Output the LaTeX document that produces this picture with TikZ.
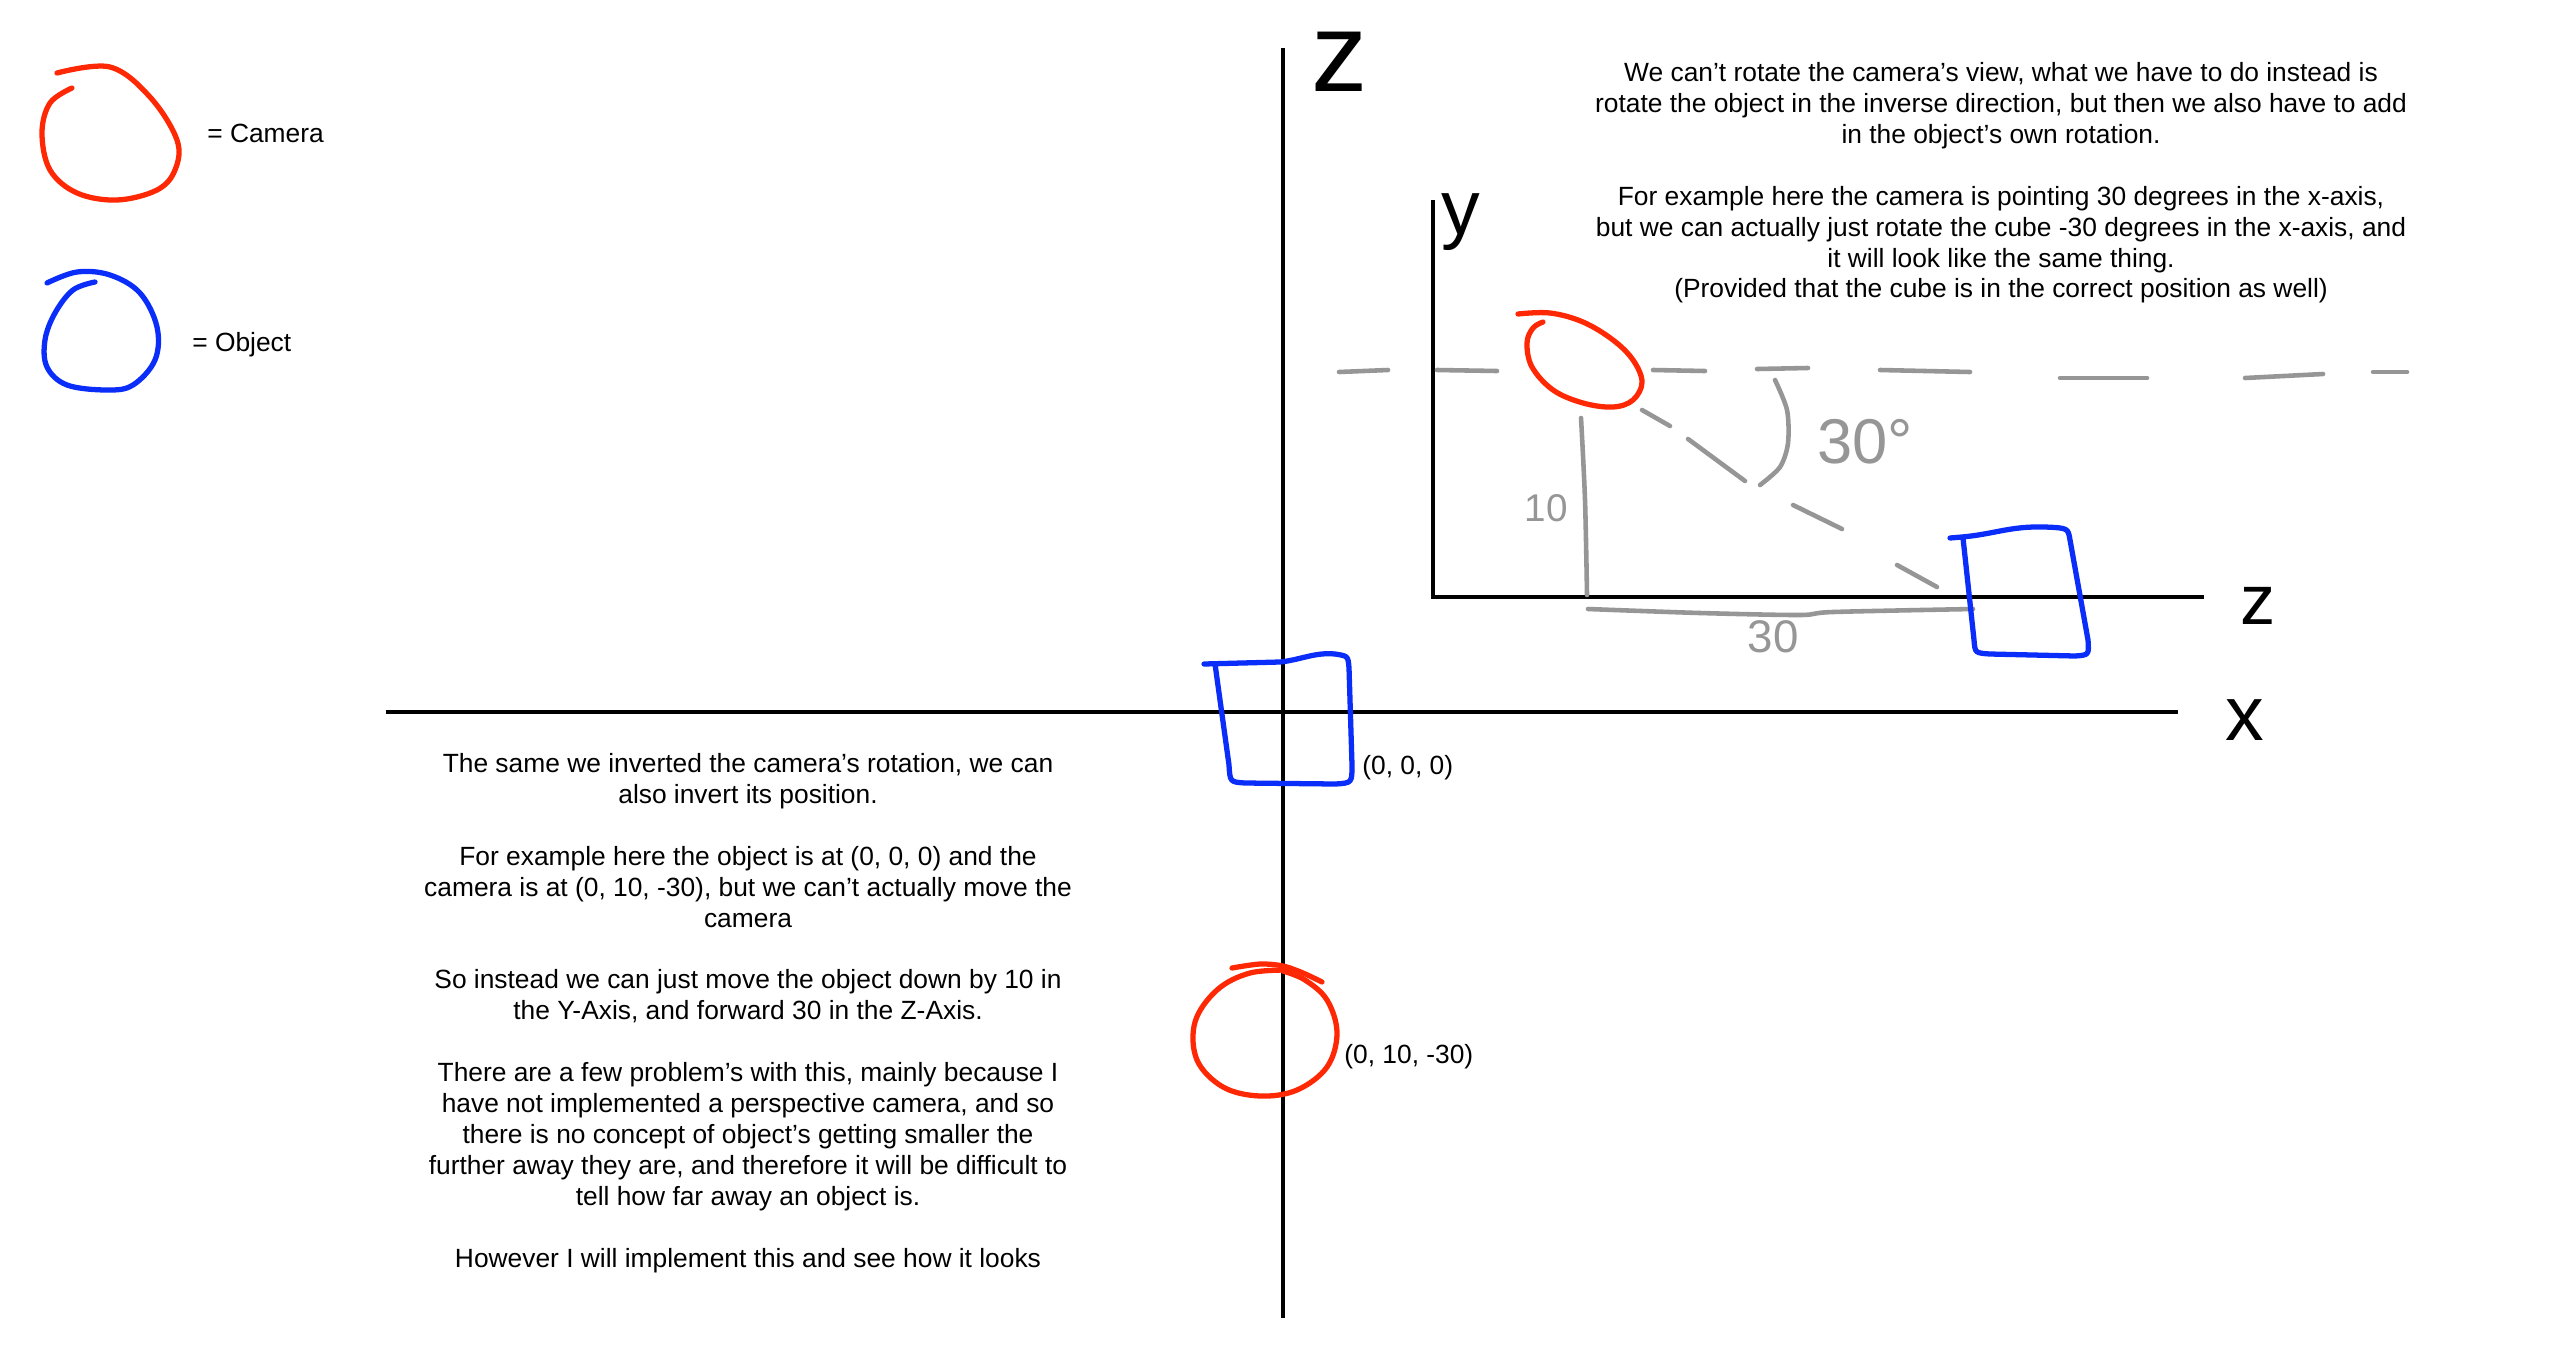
\documentclass[tikz,border=0pt]{standalone}
\usepackage{fontspec}
\setmainfont{Liberation Sans}

\definecolor{penred}{RGB}{255,40,5}
\definecolor{penblue}{RGB}{10,45,250}
\definecolor{pengrey}{RGB}{150,150,150}

\tikzset{
  pen/.style={line width=3pt,line cap=round,line join=round},
  redpen/.style={pen,draw=penred},
  bluepen/.style={pen,draw=penblue},
  greypen/.style={pen,draw=pengrey,line width=2.6pt},
  axis/.style={line width=2.8pt,black},
  note/.style={align=center,inner sep=0pt,font=\fontsize{15}{17.6}\selectfont},
  hand/.style={inner sep=0pt,font=\fontsize{#1}{#1}\selectfont},
  hand/.default=40
}

\begin{document}
\begin{tikzpicture}[x=0.2mm,y=-0.2mm]
  \fill[white] (0,0) rectangle (2557,1354);

  % Legende
  \draw[redpen] plot[smooth,tension=0.6] coordinates {(57,73) (110,67) (150,97) (177,140)
    (175,170) (157,190) (117,200) (77,193) (50,170) (42,133) (50,103) (72,88)};
  \node[note,anchor=west] (camlegend) at (207,133) {= Camera};
  \draw[bluepen] plot[smooth,tension=0.6] coordinates {(47,283) (77,272) (110,275) (140,293)
    (157,327) (155,360) (133,385) (107,390) (67,385) (47,367) (45,340) (55,313) (73,290) (95,282)};
  \node[note,anchor=west] (objlegend) at (192,345) {= Object};

  % Axes principaux
  \draw[axis] (1283,48) -- (1283,1318);
  \draw[axis] (386,712) -- (2178,712);
  \node[hand=64] (zlabel) at (1340,62) {z};
  \node[hand=44] (xlabel) at (2245,720) {x};

  % Objet a l'origine
  \draw[bluepen] (1204,664) -- (1280,662) .. controls (1300,660) and (1315,652) .. (1335,654)
    .. controls (1348,656) .. (1349,668) -- (1352,765) .. controls (1352,783) .. (1335,784)
    -- (1245,783) .. controls (1230,782) .. (1229,765) -- (1215,664);
  \node[note,anchor=west] (objpos) at (1362,768) {(0, 0, 0)};

  % Camera
  \draw[redpen] plot[smooth] coordinates {(1232,968) (1260,964) (1283,966) (1303,973) (1322,982)};
  \draw[redpen] plot[smooth,tension=0.6] coordinates {(1290,970) (1250,973) (1217,990) (1195,1022)
    (1197,1060) (1223,1087) (1260,1096) (1297,1090) (1327,1067) (1337,1033) (1327,1000) (1305,980) (1283,971)};
  \node[note,anchor=west] (campos) at (1344,1057) {(0, 10, -30)};

  % Texte du haut
  \node[note,anchor=north] (topnote) at (2001,62) {We can’t rotate the camera’s view, what we have to do instead is\\
    rotate the object in the inverse direction, but then we also have to add\\
    in the object’s own rotation.\\[17.6pt]
    For example here the camera is pointing 30 degrees in the x-axis,\\
    but we can actually just rotate the cube -30 degrees in the x-axis, and\\
    it will look like the same thing.\\
    (Provided that the cube is in the correct position as well)};

  % Texte du bas
  \node[note,anchor=north] (bottomnote) at (748,753) {The same we inverted the camera’s rotation, we can\\
    also invert its position.\\[17.6pt]
    For example here the object is at (0, 0, 0) and the\\
    camera is at (0, 10, -30), but we can’t actually move the\\
    camera\\[17.6pt]
    So instead we can just move the object down by 10 in\\
    the Y-Axis, and forward 30 in the Z-Axis.\\[17.6pt]
    There are a few problem’s with this, mainly because I\\
    have not implemented a perspective camera, and so\\
    there is no concept of object’s getting smaller the\\
    further away they are, and therefore it will be difficult to\\
    tell how far away an object is.\\[17.6pt]
    However I will implement this and see how it looks};

  % Petit schema y/z
  \draw[axis] (1433,200) -- (1433,597) -- (2204,597);
  \node[hand=44] (ylabel) at (1461,222) {y};
  \node[hand=40] (zsmall) at (2258,606) {z};

  % Ligne horizontale pointillee
  \foreach \xa/\ya/\xb/\yb in {1339/372/1388/370, 1437/370/1497/371, 1653/370/1705/371,
      1757/369/1808/368, 1880/370/1970/372, 2060/378/2147/378, 2245/378/2323/374, 2373/372/2407/372}
    \draw[greypen] (\xa,\ya) -- (\xb,\yb);
  % Ligne de visee
  \foreach \xa/\ya/\xb/\yb in {1642/410/1670/426, 1688/439/1745/481, 1793/505/1842/529, 1897/565/1937/587}
    \draw[greypen] (\xa,\ya) -- (\xb,\yb);
  % Angle
  \draw[greypen] plot[smooth] coordinates {(1775,380) (1787,410) (1788,443) (1780,467) (1760,485)};
  \node[hand=36,text=pengrey] (anglelabel) at (1865,442) {30°};
  % Hauteur et distance
  \draw[greypen] plot[smooth] coordinates {(1581,418) (1585,500) (1587,595)};
  \node[hand=22,text=pengrey] (heightlabel) at (1546,508) {10};
  \draw[greypen] plot[smooth] coordinates {(1588,609) (1700,613) (1800,615) (1833,612) (1973,609)};
  \node[hand=26,text=pengrey] (distlabel) at (1773,637) {30};

  % Camera et cube du schema
  \draw[redpen] plot[smooth,tension=0.6] coordinates {(1518,314) (1550,313) (1583,322) (1613,340)
    (1633,360) (1642,382) (1633,400) (1613,407) (1583,403) (1553,390) (1532,367) (1527,343) (1533,328) (1543,322)};
  \draw[bluepen] (1950,538) -- (1962,537) .. controls (1995,534) and (2010,526) .. (2045,527)
    .. controls (2068,528) .. (2070,540) -- (2088,640) .. controls (2089,655) .. (2075,656)
    -- (1990,654) .. controls (1975,653) .. (1974,640) -- (1963,538);
\end{tikzpicture}
\end{document}
